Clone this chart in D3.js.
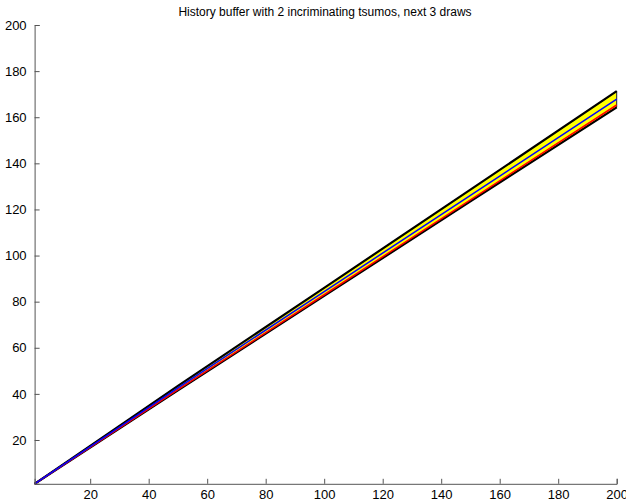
<!DOCTYPE html>
<html>
<head>
<meta charset="utf-8">
<script src="https://d3js.org/d3.v7.min.js"></script>
<style>
  body { margin: 0; background: #fff; }
  svg text { font-family: "Liberation Sans", Arial, Helvetica, sans-serif; }
  .axis path, .axis line { stroke: #555; }
  .axis text { font-size: 13px; fill: #000; }
</style>
</head>
<body>
<svg id="chart" width="626" height="504"></svg>
<script>
// sample points along draws (x)
var draws = [1, 50, 100, 150, 200];
var upperBound = [1, 43.5, 86.0, 128.6, 171.3];
var lowerBound = [1, 41.5, 82.5, 123.5, 164.3];
var blueSeries = [1, 42.6, 84.4, 126.1, 167.8];
var redSeries  = [1, 41.8, 83.0, 124.2, 165.3];
var xTicks = [20, 40, 60, 80, 100, 120, 140, 160, 180, 200];
var yTicks = [20, 40, 60, 80, 100, 120, 140, 160, 180, 200];
var title = "History buffer with 2 incriminating tsumos, next 3 draws";

var svg = d3.select("#chart");

var x = d3.scaleLinear().domain([1, 200]).range([34.6, 616.7]);
var y = d3.scaleLinear().domain([1, 200]).range([483.8, 25]);

var pts = function(vals) {
  return draws.map(function(d, i) { return [d, vals[i]]; });
};

// yellow band between bounds, with a thin dark outline
var area = d3.area()
  .x(function(d, i) { return x(draws[i]); })
  .y0(function(d, i) { return y(lowerBound[i]); })
  .y1(function(d) { return y(d); });

svg.append("path")
  .datum(upperBound)
  .attr("d", area)
  .attr("fill", "#ffff00")
  .attr("stroke", "#222")
  .attr("stroke-width", 1);

var line = d3.line()
  .x(function(d) { return x(d[0]); })
  .y(function(d) { return y(d[1]); });

svg.append("path").datum(pts(upperBound)).attr("d", line)
  .attr("fill", "none").attr("stroke", "#000").attr("stroke-width", 2.2);
svg.append("path").datum(pts(lowerBound)).attr("d", line)
  .attr("fill", "none").attr("stroke", "#000").attr("stroke-width", 2.2);
svg.append("path").datum(pts(redSeries)).attr("d", line)
  .attr("fill", "none").attr("stroke", "#ff0000").attr("stroke-width", 1.5);
svg.append("path").datum(pts(blueSeries)).attr("d", line)
  .attr("fill", "none").attr("stroke", "#0000ff").attr("stroke-width", 1.5);

// axes, ticks pointing inward like MATLAB
svg.append("g")
  .attr("class", "axis")
  .attr("transform", "translate(0," + y(1) + ")")
  .call(d3.axisBottom(x).tickValues(xTicks).tickSizeInner(-5).tickSizeOuter(-5).tickPadding(6))
  .call(function(g) { g.selectAll("text").attr("y", 6).attr("dy", "0.71em"); });

svg.append("g")
  .attr("class", "axis")
  .attr("transform", "translate(" + x(1) + ",0)")
  .call(d3.axisLeft(y).tickValues(yTicks).tickSizeInner(-5).tickSizeOuter(-5).tickPadding(8));

svg.append("text")
  .attr("x", 325)
  .attr("y", 16)
  .attr("text-anchor", "middle")
  .style("font-size", "12px")
  .text(title);
</script>
</body>
</html>
